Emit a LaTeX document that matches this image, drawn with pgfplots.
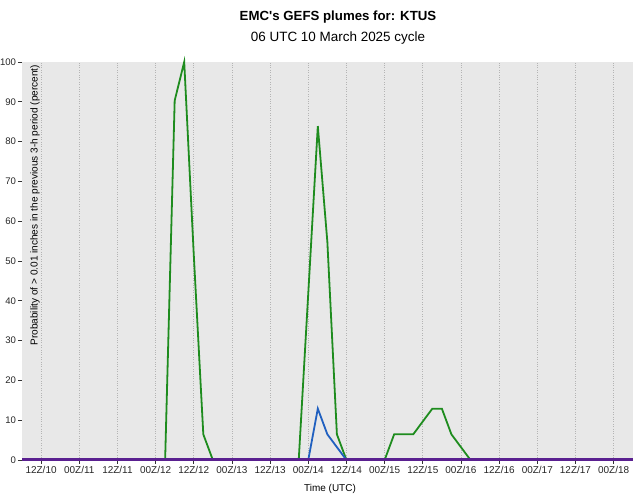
\documentclass[border=0pt]{standalone}
\usepackage{fontspec}
\setmainfont{Liberation Sans}
\usepackage{pgfplots}
\pgfplotsset{compat=1.18}
\definecolor{bggray}{HTML}{E8E8E8}
\definecolor{gridgray}{HTML}{B4B4B4}
\definecolor{lgreen}{HTML}{1E8C1E}
\definecolor{lblue}{HTML}{2060C0}
\definecolor{lpurple}{HTML}{5A2090}
\begin{document}
\begin{tikzpicture}[x=1bp,y=1bp]
\path[use as bounding box] (0,0) rectangle (640,501);
\begin{axis}[
  at={(22bp,41bp)}, anchor=south west, scale only axis,
  width=610.7bp, height=398bp,
  xmin=0, xmax=192, ymin=0, ymax=100,
  axis background/.style={fill=bggray},
  axis line style={draw=none},
  xtick={6,18,...,186},
  xticklabels={12Z/10,00Z/11,12Z/11,00Z/12,12Z/12,00Z/13,12Z/13,00Z/14,12Z/14,00Z/15,12Z/15,00Z/16,12Z/16,00Z/17,12Z/17,00Z/18},
  ytick={0,10,...,100},
  tick align=outside, xtick pos=bottom, ytick pos=left,
  major tick length=4bp,
  tick style={black!80, line width=0.8bp},
  xmajorgrids,
  grid style={gridgray, dotted, line width=0.8bp},
  xticklabel style={font=\fontsize{10}{12}\selectfont, text=black!85, yshift=1bp},
  yticklabel style={font=\fontsize{9.6}{12}\selectfont, text=black!85, xshift=1.5bp},
  /pgf/number format/assume math mode=true,
  clip=false,
]
\addplot[lgreen, line width=1.8bp] coordinates {
 (0,0) (45,0) (48,90.3) (51,100) (54,51.6) (57,6.45) (60,0)
 (87,0) (90,41.9) (93,83.9) (96,54.8) (99,6.45) (102,0)
 (114,0) (117,6.45) (120,6.45) (123,6.45) (126,9.68) (129,12.9) (132,12.9) (135,6.45) (138,3.23) (141,0) (192,0)};
\addplot[lblue, line width=1.8bp] coordinates {
 (0,0) (90,0) (93,12.9) (96,6.45) (99,3.23) (102,0) (192,0)};
\addplot[lpurple, line width=3bp] coordinates {(0,0) (192,0)};
\end{axis}
\node[font=\bfseries\fontsize{13.3}{15}\selectfont] at (338,483.5) {EMC\textquotesingle s GEFS plumes for: KTUS};
\node[font=\fontsize{13.5}{15}\selectfont] at (338,462.5) {06 UTC 10 March 2025 cycle};
\node[font=\fontsize{10}{12}\selectfont] at (330,12) {Time (UTC)};
\node[rotate=90, anchor=east, font=\fontsize{10.1}{12}\selectfont] at (35,439.5) {Probability of > 0.01 inches in the previous 3-h period (percent)};
\end{tikzpicture}
\end{document}
